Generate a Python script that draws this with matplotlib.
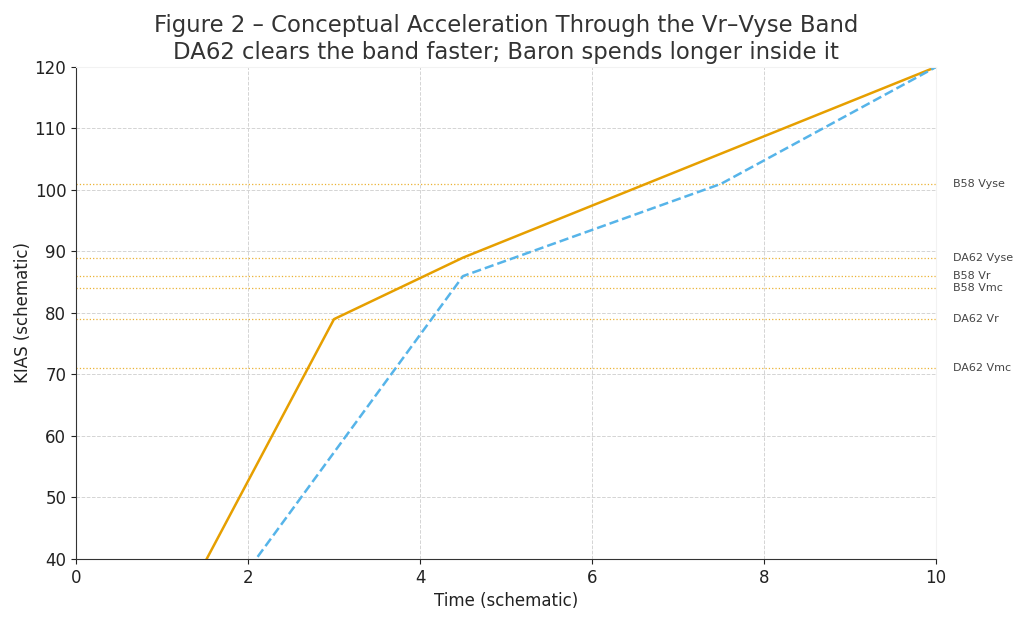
import numpy as np
import matplotlib.pyplot as plt

# schematic speed profiles (time, KIAS)
da62_t = [0, 3, 4.5, 10]
da62_v = [0, 79, 89, 120]
b58_t = [0, 4.5, 7.5, 10]
b58_v = [0, 86, 101, 120]

# reference speeds
ref_names = ['DA62 Vmc', 'DA62 Vr', 'DA62 Vyse', 'B58 Vmc', 'B58 Vr', 'B58 Vyse']
ref_speeds = [71, 79, 89, 84, 86, 101]

orange = '#E69F00'
blue = '#56B4E9'

fig = plt.figure(figsize=(10.3, 6.2), dpi=100)
ax = fig.add_axes([0.0738, 0.0984, 0.835, 0.7936])

ax.grid(True, linestyle='--', color='#d4d4d4', linewidth=0.7)
ax.set_axisbelow(True)

for name, v in zip(ref_names, ref_speeds):
    ax.axhline(v, linestyle=':', color=orange, linewidth=0.9, alpha=0.8)
    ax.text(10.2, v, name, fontsize=8, color='#444444', va='center', ha='left')

ax.plot(da62_t, da62_v, '-', color=orange, linewidth=1.8)
ax.plot(b58_t, b58_v, '--', color=blue, linewidth=1.8)

ax.set_xlim(0, 10)
ax.set_ylim(40, 120)
ax.set_xticks([0, 2, 4, 6, 8, 10])
ax.tick_params(labelsize=12, colors='#222222')
ax.set_xlabel('Time (schematic)', fontsize=12, color='#222222')
ax.set_ylabel('KIAS (schematic)', fontsize=12, color='#222222', labelpad=2)
ax.set_title('Figure 2 – Conceptual Acceleration Through the Vr–Vyse Band\n'
             'DA62 clears the band faster; Baron spends longer inside it',
             fontsize=16.4, color='#333333')

for s in ['top', 'right']:
    ax.spines[s].set_color('#f2f2f2')
ax.spines['left'].set_color('#333333')
ax.spines['bottom'].set_color('#333333')

fig.savefig('out.png', dpi=100)
